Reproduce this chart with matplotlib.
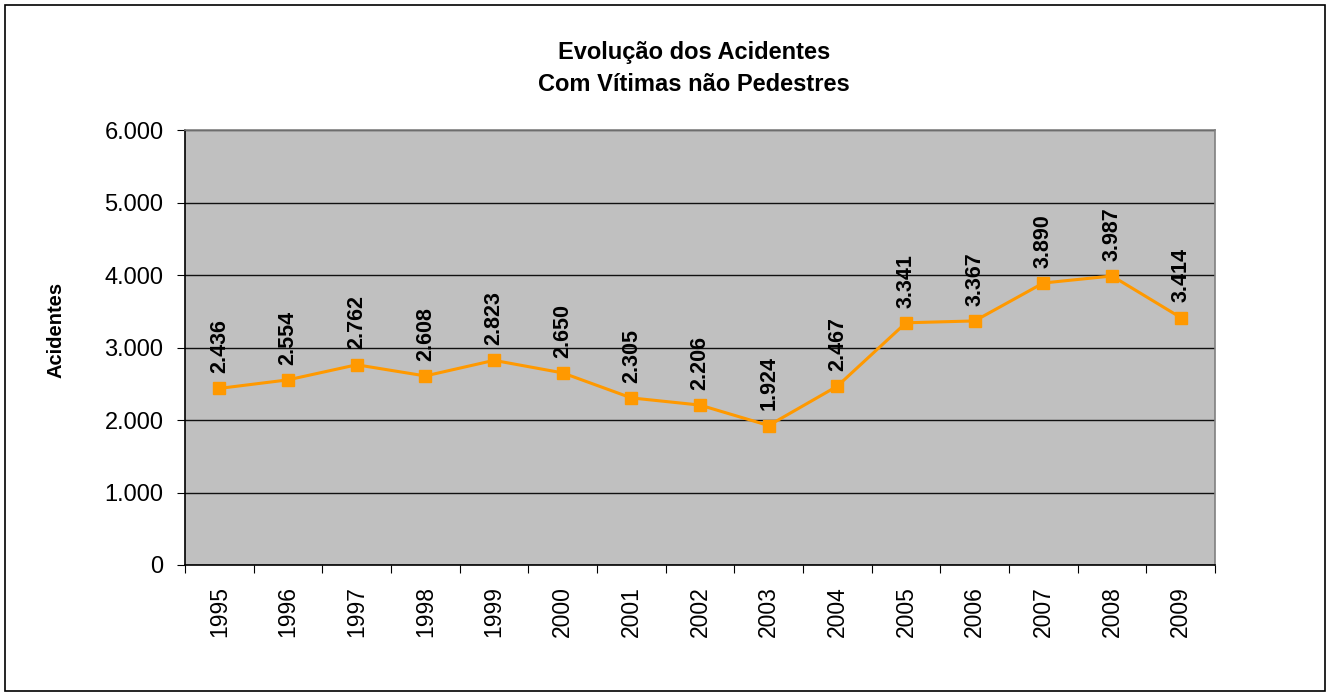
import matplotlib.pyplot as plt
from matplotlib.patches import Rectangle

plt.rcParams['font.family'] = ['Liberation Sans', 'DejaVu Sans']

# data
anos = ['1995', '1996', '1997', '1998', '1999', '2000', '2001', '2002',
        '2003', '2004', '2005', '2006', '2007', '2008', '2009']
acidentes = [2436, 2554, 2762, 2608, 2823, 2650, 2305, 2206,
             1924, 2467, 3341, 3367, 3890, 3987, 3414]
yticks = [0, 1000, 2000, 3000, 4000, 5000, 6000]
ytick_labels = ['0', '1.000', '2.000', '3.000', '4.000', '5.000', '6.000']

fig = plt.figure(figsize=(13.29, 6.97), dpi=100)
fig.patches.append(Rectangle((0.004, 0.008), 0.993, 0.985, transform=fig.transFigure,
                             fill=False, edgecolor='black', linewidth=1.2))

ax = fig.add_axes([0.1392, 0.1894, 0.775, 0.624])
ax.set_facecolor('#c0c0c0')

x = list(range(len(anos)))
ax.plot(x, acidentes, color='#ff9900', linewidth=2.2, marker='s',
        markersize=8, markeredgecolor='#ff9900', zorder=3)

for xi, v in zip(x, acidentes):
    lbl = f'{v:,}'.replace(',', '.')
    ax.annotate(lbl, (xi, v), xytext=(0, 11), textcoords='offset points',
                rotation=90, ha='center', va='bottom', fontsize=15.5,
                fontweight='bold')

ax.set_xlim(-0.5, len(anos) - 0.5)
ax.set_ylim(0, 6000)
ax.set_yticks(yticks)
ax.set_yticklabels(ytick_labels, fontsize=17)
ax.yaxis.grid(True, color='#101010', linewidth=1)
ax.set_axisbelow(True)

# category boundary ticks, labels centred
ax.set_xticks([i - 0.5 for i in range(len(anos) + 1)])
ax.set_xticklabels([])
ax.set_xticks(x, minor=True)
ax.set_xticklabels(anos, minor=True, rotation=90, fontsize=16.5)
ax.tick_params(axis='x', which='minor', length=0, pad=15)
ax.tick_params(axis='both', which='major', length=5.5, direction='out', color='black')
ax.tick_params(axis='y', pad=10)

ax.spines['left'].set_color('black')
ax.spines['bottom'].set_color('black')
ax.spines['top'].set_color('#808080')
ax.spines['right'].set_color('#808080')
for s in ax.spines.values():
    s.set_linewidth(1.2)

ax.set_ylabel('Acidentes', fontsize=14.5, fontweight='bold')
ax.yaxis.set_label_coords(-0.1165, 0.54)

fig.text(0.522, 0.9017, 'Evolução dos Acidentes\nCom Vítimas não Pedestres',
         ha='center', va='center', fontsize=17, fontweight='bold',
         linespacing=1.55)

fig.savefig('out.png', dpi=100)
